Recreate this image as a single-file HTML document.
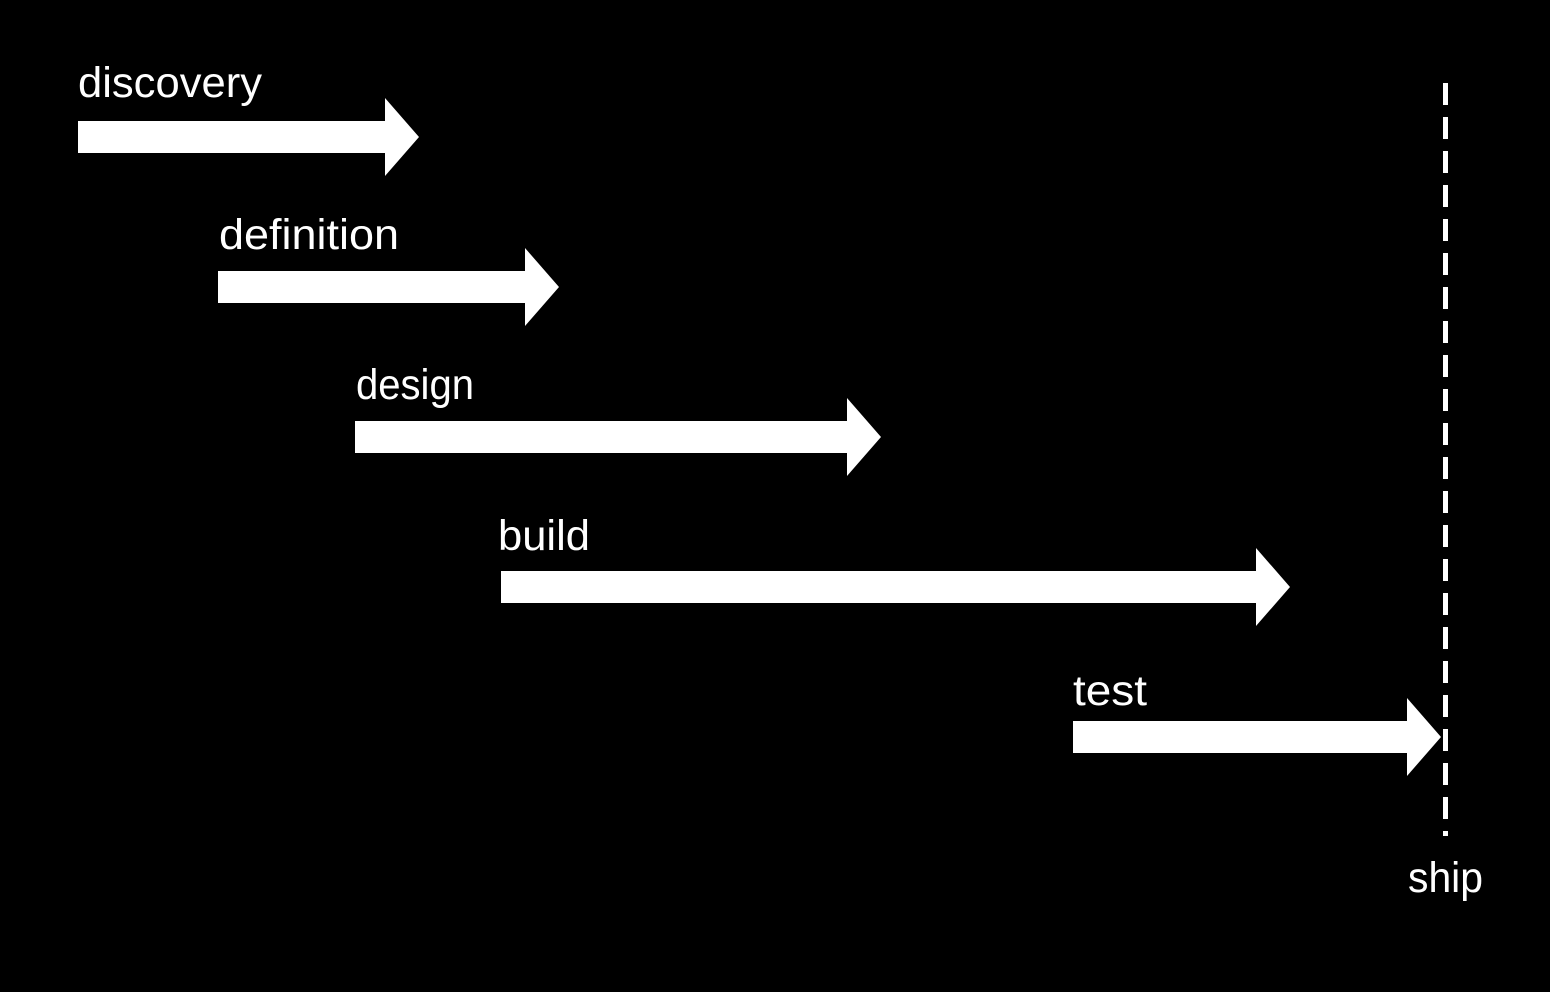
<!DOCTYPE html>
<html><head><meta charset="utf-8"><style>
html,body{margin:0;padding:0;background:#000;}
svg{display:block}
text{font-family:"Liberation Sans",sans-serif;font-size:43px;fill:#fff;}
</style></head><body>
<svg width="1550" height="992" viewBox="0 0 1550 992">
<rect width="1550" height="992" fill="#000"/>
<g fill="#fff">
<polygon points="78,121 385,121 385,98 419,137 385,176 385,153 78,153"/>
<polygon points="218,271 525,271 525,248 559,287 525,326 525,303 218,303"/>
<polygon points="355,421 847,421 847,398 881,437 847,476 847,453 355,453"/>
<polygon points="501,571 1256,571 1256,548 1290,587 1256,626 1256,603 501,603"/>
<polygon points="1073,721 1407,721 1407,698 1441,737 1407,776 1407,753 1073,753"/>
</g>
<line x1="1445.5" y1="83" x2="1445.5" y2="836" stroke="#fff" stroke-width="5" stroke-dasharray="22 12"/>
<text x="78" y="97" textLength="184" lengthAdjust="spacingAndGlyphs">discovery</text>
<text x="219" y="249" textLength="180" lengthAdjust="spacingAndGlyphs">definition</text>
<text x="356" y="399" textLength="118" lengthAdjust="spacingAndGlyphs">design</text>
<text x="498" y="550" textLength="92" lengthAdjust="spacingAndGlyphs">build</text>
<text x="1073" y="705" textLength="74" lengthAdjust="spacingAndGlyphs">test</text>
<text x="1408" y="892" textLength="75" lengthAdjust="spacingAndGlyphs">ship</text>
</svg>
</body></html>
